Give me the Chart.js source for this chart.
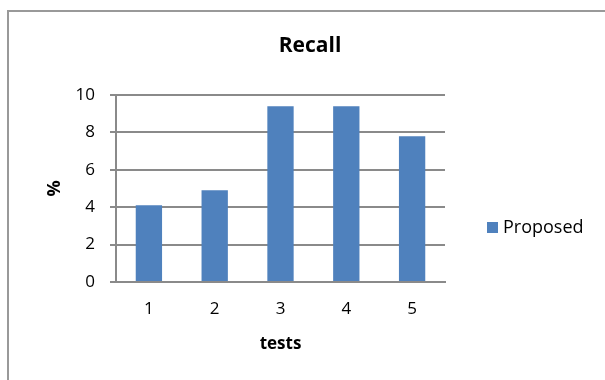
<!DOCTYPE html>
<html>
<head>
<meta charset="utf-8">
<script src="https://cdn.jsdelivr.net/npm/chart.js@4"></script>
<style>
  html, body { margin: 0; padding: 0; background: #fff; overflow: hidden; }
  #wrap { position: relative; width: 605px; height: 380px; }
  #frame { position: absolute; left: 7px; top: 10px; width: 700px; height: 500px;
           border-top: 2px solid #999; border-left: 2px solid #999; box-sizing: border-box; }
  canvas { position: absolute; left: 0; top: 0; }
</style>
</head>
<body>
<div id="wrap">
  <div id="frame"></div>
  <canvas id="c" width="605" height="380"></canvas>
</div>
<script>
const categories = ['1', '2', '3', '4', '5'];
const proposed = [4.1, 4.9, 9.4, 9.4, 7.8];
const seriesName = 'Proposed';
const chartTitle = 'Recall';
const xTitle = 'tests';
const yTitle = '%';

const FONT = "'Open Sans', 'DejaVu Sans', sans-serif";
const GRID = '#8a8a8a';
const BAR = '#4f81bd';

const legendPlugin = {
  id: 'manualLegend',
  afterDraw(chart) {
    const ctx = chart.ctx;
    const ds = chart.data.datasets[0];
    ctx.save();
    ctx.fillStyle = ds.backgroundColor;
    ctx.fillRect(487, 222, 11, 11);
    ctx.fillStyle = '#000';
    ctx.font = "18px " + FONT;
    ctx.textBaseline = 'middle';
    ctx.textAlign = 'left';
    ctx.fillText(ds.label, 503, 228);
    ctx.restore();
  }
};

new Chart(document.getElementById('c'), {
  type: 'bar',
  data: {
    labels: categories,
    datasets: [{
      label: seriesName,
      data: proposed,
      backgroundColor: BAR,
      borderColor: BAR,
      borderWidth: 0,
      barPercentage: 0.4,
      categoryPercentage: 1.0
    }]
  },
  options: {
    responsive: false,
    animation: false,
    devicePixelRatio: 1,
    layout: { padding: { left: 15, right: 0, top: 0, bottom: 0 } },
    plugins: {
      legend: { display: false },
      tooltip: { enabled: false },
      title: {
        display: true,
        text: chartTitle,
        color: '#000',
        font: { family: FONT, size: 21, weight: 'bold', lineHeight: 1.2 },
        padding: { top: 33.4, bottom: 36.4 }
      }
    },
    scales: {
      x: {
        grid: { display: false, drawTicks: false },
        border: { display: true, color: GRID, width: 2 },
        ticks: { color: '#000', font: { family: FONT, size: 17 }, padding: 17 },
        title: {
          display: true, text: xTitle, color: '#000',
          font: { family: FONT, size: 17, weight: 'bold', lineHeight: 1.2 },
          padding: { top: 0, bottom: 25.8 }
        },
        afterFit(s) { s.height = 98; }
      },
      y: {
        min: 0, max: 10,
        ticks: { stepSize: 2, color: '#000', font: { family: FONT, size: 17 }, padding: 15 },
        grid: { color: GRID, lineWidth: 2, tickLength: 6, drawTicks: true },
        border: { display: true, color: GRID, width: 2 },
        title: {
          display: true, text: yTitle, color: '#000',
          font: { family: FONT, size: 18, weight: 'bold', lineHeight: 1.2 },
          padding: { top: 28.7, bottom: 0 }
        },
        afterFit(s) { s.width = 101; }
      },
      spacer: {
        type: 'linear', position: 'right', display: true,
        grid: { display: false, drawTicks: false },
        border: { display: false },
        ticks: { display: false },
        afterFit(s) { s.width = 160; }
      }
    }
  },
  plugins: [legendPlugin]
});
</script>
</body>
</html>
